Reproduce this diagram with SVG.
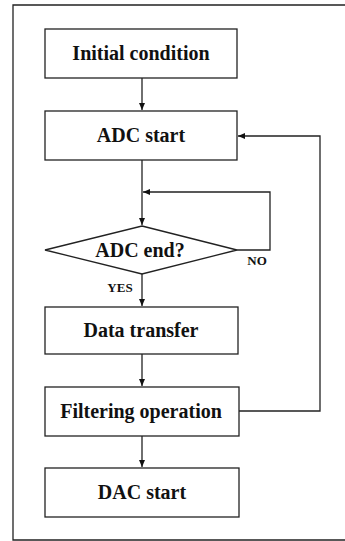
<svg xmlns="http://www.w3.org/2000/svg" width="345" height="541" viewBox="0 0 345 541">
<style>
.box{fill:#fff;stroke:#222;stroke-width:1.3}
.lbl{font-family:"Liberation Serif",serif;font-weight:bold;font-size:20px;fill:#111;text-anchor:middle}
.sm{font-family:"Liberation Serif",serif;font-weight:bold;font-size:13px;fill:#111;text-anchor:middle}
.ln{fill:none;stroke:#222;stroke-width:1.3}
</style>
<defs>
<marker id="ah" markerWidth="8" markerHeight="8" refX="7" refY="4" orient="auto" markerUnits="userSpaceOnUse">
<path d="M0,1 L7,4 L0,7 Z" fill="#111"/>
</marker>
</defs>
<rect width="345" height="541" fill="#fff"/>
<path d="M346,5 H13 V540 H346" fill="none" stroke="#222" stroke-width="1.3"/>
<g id="connectors">
<path class="ln" d="M142,78 V110" marker-end="url(#ah)"/>
<path class="ln" d="M142,160 V225" marker-end="url(#ah)"/>
<path class="ln" d="M237,250 H270 V192 H143" marker-end="url(#ah)"/>
<path class="ln" d="M142,274 V306" marker-end="url(#ah)"/>
<path class="ln" d="M142,354 V386" marker-end="url(#ah)"/>
<path class="ln" d="M239,411 H320 V136 H238" marker-end="url(#ah)"/>
<path class="ln" d="M142,436 V467" marker-end="url(#ah)"/>
<text class="sm" x="257" y="265">NO</text>
<text class="sm" x="120" y="292">YES</text>
</g>
<g id="initial"><rect class="box" x="45" y="29" width="192" height="49"/><text class="lbl" x="141" y="60">Initial condition</text></g>
<g id="adcstart"><rect class="box" x="45" y="111" width="192" height="49"/><text class="lbl" x="141" y="142">ADC start</text></g>
<g id="adcend"><path class="box" d="M142,226 L237,250 L142,274 L45,250 Z"/><text class="lbl" x="140" y="257">ADC end?</text></g>
<g id="datatransfer"><rect class="box" x="45" y="307" width="193" height="47"/><text class="lbl" x="141" y="337">Data transfer</text></g>
<g id="filtering"><rect class="box" x="45" y="387" width="194" height="49"/><text class="lbl" x="141" y="418">Filtering operation</text></g>
<g id="dacstart"><rect class="box" x="45" y="468" width="194" height="49"/><text class="lbl" x="142" y="499">DAC start</text></g>
</svg>
